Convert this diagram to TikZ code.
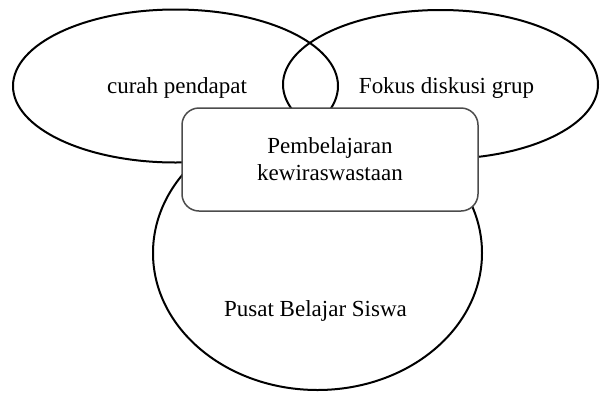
\documentclass[tikz,border=0pt]{standalone}
\usepackage{fontspec}
\setmainfont{Liberation Serif}
\usetikzlibrary{shapes.geometric}
\begin{document}
\begin{tikzpicture}[x=0.5pt,y=-0.5pt,
  oval/.style={draw=black,line width=1pt,ellipse,inner sep=0pt},
  txt/.style={font=\fontsize{11.5}{13.5}\selectfont,align=center,inner sep=0pt},
  core/.style={draw=black!70,line width=0.75pt,fill=white,rounded corners=8.5pt,
    minimum width=148pt,minimum height=51.5pt,inner sep=0pt,
    font=\fontsize{11.5}{13.5}\selectfont,align=center}]
\useasboundingbox (0,0) rectangle (600,392);
\node[oval,minimum width=164.5pt,minimum height=137pt] (bottom) at (317.5,253) {};
\node[oval,minimum width=162.5pt,minimum height=76.5pt] (left) at (175.5,86) {};
\node[oval,minimum width=157.5pt,minimum height=74.5pt] (right) at (440.5,84.5) {};
\node[txt] (lt) at (177,88) {curah pendapat};
\node[txt] (rt) at (446.5,88) {Fokus diskusi grup};
\node[txt] (bt) at (315.5,311) {Pusat Belajar Siswa};
\node[core] (center) at (330,159.5) {Pembelajaran\\kewiraswastaan};
\end{tikzpicture}
\end{document}
